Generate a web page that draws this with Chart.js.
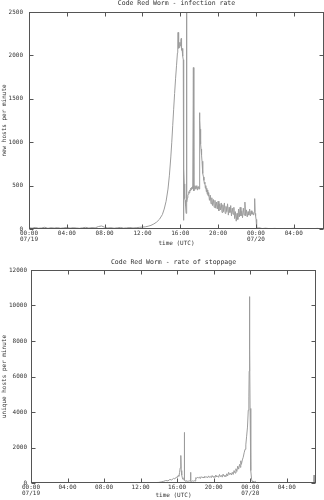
<!DOCTYPE html>
<html>
<head>
<meta charset="utf-8">
<script src="https://cdn.jsdelivr.net/npm/chart.js@4/dist/chart.umd.min.js"></script>
<style>
  html, body { margin: 0; padding: 0; background: #fff; }
  canvas { position: absolute; left: 0; }
  #rateChart { top: 0; }
  #stopChart { top: 250px; }
</style>
</head>
<body>
<canvas id="rateChart" width="324" height="250"></canvas>
<canvas id="stopChart" width="324" height="250"></canvas>
<script>
// time axis, minutes since 07/19 00:00 UTC
const tickMinutes = [0, 240, 480, 720, 960, 1200, 1440, 1680];
const tickTimes = ['00:00', '04:00', '08:00', '12:00', '16:00', '20:00', '00:00', '04:00'];
const tickDates = ['07/19', '', '', '', '', '', '07/20', ''];
const endMinute = 1872;

const rateTicks = [0, 500, 1000, 1500, 2000, 2500];
const stopTicks = [0, 2000, 4000, 6000, 8000, 10000, 12000];

// new hosts per minute
const rateMinutes = [
  0, 20, 40, 60, 80, 100, 120, 140, 160, 180, 200, 220, 240, 260, 280, 300, 320, 340, 360, 380, 400, 420, 440, 460, 480, 500, 520, 540, 560, 580, 600, 620, 640, 660, 680, 700, 720,
  738, 756, 774, 792, 810, 828, 846, 858, 870, 882, 891, 900, 906, 912, 918, 924, 930, 936, 942,
  944, 946, 948, 951, 954, 957, 960, 963, 966, 968, 971, 974, 977, 979,
  980, 981, 983, 985, 987, 989, 991, 993, 995, 997,
  999, 1002, 1005, 1008, 1011, 1014, 1017, 1020, 1023, 1026, 1029, 1032, 1035, 1038, 1040, 1043, 1045, 1047, 1050, 1053, 1056, 1059, 1062, 1065, 1068, 1071, 1074, 1077, 1080,
  1082, 1084, 1086, 1088, 1090, 1092, 1095, 1098, 1101, 1104, 1107, 1110, 1113, 1116, 1119, 1122, 1125, 1128, 1131, 1134, 1137, 1140,
  1145, 1150, 1155, 1160, 1165, 1170, 1175, 1180, 1185, 1190, 1195, 1200, 1205, 1210, 1215, 1220, 1225, 1230, 1235, 1240,
  1245, 1250, 1255, 1260, 1265, 1270, 1275, 1280, 1285, 1290, 1295, 1300, 1305, 1310, 1315, 1320, 1325, 1330, 1335, 1340,
  1345, 1350, 1355, 1360, 1365, 1370, 1375, 1380, 1385, 1390, 1395, 1400, 1405, 1410, 1415, 1420, 1425, 1430, 1432, 1435, 1438, 1441,
  1443, 1446, 1450, 1460, 1480, 1500, 1530, 1560, 1590, 1620, 1650, 1680, 1710, 1740, 1770, 1800, 1830, 1860, 1872
];
const rateValues = [
  14, 10, 18, 9, 12, 20, 8, 15, 11, 16, 9, 13, 18, 10, 15, 12, 8, 14, 19, 11, 16, 13, 28, 35, 20, 12, 15, 9, 14, 18, 10, 13, 17, 12, 15, 19, 22,
  25, 32, 42, 58, 80, 112, 165, 230, 320, 460, 620, 830, 1000, 1190, 1380, 1560, 1730, 1880, 2030,
  2120, 2265, 2080, 2140, 2090, 2150, 2110, 2160, 2195, 2060, 2080, 2010, 1990, 1950,
  100, 760, 690, 520, 410, 350, 330, 300, 260, 180,
  3000, 310, 360, 390, 400, 430, 415, 450, 440, 470, 455, 480, 465, 490, 470, 1860, 480, 440, 470, 500, 460, 490, 470, 500, 450, 480, 470, 490, 460,
  1340, 1250, 1150, 1060, 980, 920, 850, 780, 720, 640, 600, 560, 520, 540, 470, 500, 430, 470, 400, 450, 380, 420,
  330, 390, 290, 360, 270, 340, 250, 330, 240, 310, 230, 320, 210, 290, 220, 300, 190, 280, 200, 300,
  180, 260, 200, 290, 160, 250, 190, 270, 150, 240, 170, 250, 120, 200, 90, 180, 110, 230, 140, 250,
  150, 210, 130, 240, 160, 310, 150, 220, 140, 200, 160, 230, 150, 210, 170, 190, 160, 200, 350, 180, 150, 110,
  15, 28, 8, 14, 5, 9, 4, 7, 3, 6, 4, 8, 3, 5, 6, 4, 7, 3, 5
];

// unique hosts per minute that stopped
const stopMinutes = [
  0, 30, 60, 90, 120, 150, 180, 210, 240, 270, 300, 330, 360, 390, 420, 450, 480, 510, 540, 570, 600, 630, 660, 690, 720, 750, 780, 810, 840,
  855, 870, 885, 900, 912, 924, 936, 945, 954, 960, 966, 972, 976, 980,
  983, 985, 987, 990, 994, 998, 1002, 1005, 1007, 1009, 1013, 1018, 1024, 1030, 1036, 1042, 1046, 1048, 1050, 1055, 1060, 1066, 1072, 1078,
  1082, 1088, 1094, 1100, 1106, 1112, 1118, 1124, 1130, 1136, 1142, 1148, 1154, 1160, 1166, 1172, 1178, 1184, 1190, 1196,
  1202, 1208, 1214, 1220, 1226, 1232, 1238, 1244, 1250, 1256, 1262, 1268, 1274, 1280, 1286, 1292, 1298, 1304, 1310, 1316,
  1322, 1328, 1334, 1340, 1346, 1352, 1358, 1364, 1370, 1376,
  1378, 1382, 1388, 1394, 1400, 1406, 1411, 1416, 1422, 1427, 1431, 1433, 1435, 1437, 1439, 1442, 1445, 1449,
  1453, 1458, 1463, 1468, 1474, 1480, 1490, 1500, 1540, 1580, 1620, 1660, 1700, 1740, 1780, 1820, 1850, 1856, 1859, 1862, 1868, 1872
];
const stopValues = [
  2, 0, 3, 1, 0, 2, 4, 1, 0, 3, 1, 2, 0, 4, 2, 1, 3, 0, 2, 1, 3, 0, 2, 5, 3, 8, 12, 20, 35,
  60, 90, 140, 120, 200, 170, 260, 230, 330, 300, 420, 380, 600, 850,
  1100, 1550, 700, 450, 300, 220, 180, 150, 2850, 160, 120, 100, 130, 90, 110, 120, 100, 600, 110, 90, 120, 100, 130, 110,
  300, 260, 340, 280, 330, 250, 360, 300, 340, 280, 380, 310, 350, 290, 400, 320, 370, 300, 420, 330,
  380, 310, 450, 340, 400, 320, 480, 360, 430, 330, 500, 380, 440, 350, 520, 400, 600, 480, 560, 450,
  600, 480, 700, 560, 800, 650, 950, 780, 1050, 880,
  1250, 1050, 1300, 1450, 1700, 1900, 2150, 2600, 3150, 4100, 4850, 6300, 10500, 7500, 4200, 1800, 700, 200,
  100, 60, 110, 40, 90, 30, 10, 0, 2, 0, 3, 1, 0, 2, 1, 0, 5, 80, 450, 60, 10, 5
];

const FONT = '"DejaVu Sans Mono", monospace';
const INK = '#333';

// gnuplot style box, mirrored inward ticks and title over the plot
const gnuFrame = {
  id: 'gnuFrame',
  afterDraw(chart, args, opts) {
    const { ctx, chartArea: a, scales: { x, y } } = chart;
    const L = Math.round(a.left) + 0.5, R = Math.round(a.right) - 0.5;
    const T = Math.round(a.top) + 0.5, B = Math.round(a.bottom) - 0.5;
    ctx.save();
    ctx.strokeStyle = '#555';
    ctx.lineWidth = 1;
    ctx.strokeRect(L, T, R - L, B - T);
    ctx.beginPath();
    x.ticks.forEach(t => {
      const px = Math.round(x.getPixelForValue(t.value)) + 0.5;
      ctx.moveTo(px, B); ctx.lineTo(px, B - 4);
      ctx.moveTo(px, T); ctx.lineTo(px, T + 4);
    });
    y.ticks.forEach(t => {
      const py = Math.round(y.getPixelForValue(t.value)) + 0.5;
      ctx.moveTo(L, py); ctx.lineTo(L + 4, py);
      ctx.moveTo(R, py); ctx.lineTo(R - 4, py);
    });
    ctx.stroke();
    ctx.fillStyle = INK;
    ctx.font = '6.5px ' + FONT;
    ctx.textAlign = 'center';
    ctx.textBaseline = 'middle';
    ctx.fillText(opts.text, (a.left + a.right) / 2, a.top - opts.gap);
    ctx.restore();
  }
};

function makeChart(id, title, yTitle, minutes, values, yTicks, g) {
  new Chart(document.getElementById(id), {
    type: 'line',
    data: {
      datasets: [{
        data: minutes.map((m, i) => ({ x: m, y: values[i] })),
        borderColor: '#9c9c9c',
        borderWidth: 1,
        pointRadius: 0,
        tension: 0
      }]
    },
    options: {
      responsive: false,
      animation: false,
      events: [],
      layout: { padding: { top: g.top, right: g.right, bottom: g.bottom, left: 0 } },
      plugins: {
        legend: { display: false },
        tooltip: { enabled: false },
        gnuFrame: { text: title, gap: g.titleGap }
      },
      scales: {
        x: {
          type: 'linear',
          min: 0,
          max: endMinute,
          grid: { display: false, drawTicks: false },
          border: { display: false },
          afterBuildTicks: s => { s.ticks = tickMinutes.map(v => ({ value: v })); },
          afterFit: s => { s.height = g.xHeight; },
          ticks: {
            maxRotation: 0,
            autoSkip: false,
            padding: g.xPad,
            color: INK,
            font: { family: FONT, size: 6, lineHeight: 0.9 },
            callback: v => {
              const i = tickMinutes.indexOf(v);
              return tickDates[i] ? [tickTimes[i], tickDates[i]] : tickTimes[i];
            }
          },
          title: {
            display: true,
            text: 'time (UTC)',
            color: INK,
            font: { family: FONT, size: 6 },
            padding: { top: 0, bottom: g.xTitlePad }
          }
        },
        y: {
          min: 0,
          max: yTicks[yTicks.length - 1],
          grid: { display: false, drawTicks: false },
          border: { display: false },
          afterBuildTicks: s => { s.ticks = yTicks.map(v => ({ value: v })); },
          afterFit: s => { s.width = g.left; },
          ticks: {
            padding: g.yPad,
            color: INK,
            font: { family: FONT, size: 6 },
            callback: v => String(v)
          },
          title: {
            display: true,
            text: yTitle,
            color: INK,
            font: { family: FONT, size: 6 },
            padding: { top: 0.5, bottom: 0 }
          }
        }
      }
    },
    plugins: [gnuFrame]
  });
}

makeChart('rateChart', 'Code Red Worm - infection rate', 'new hosts per minute',
  rateMinutes, rateValues, rateTicks,
  { top: 12, right: 0, bottom: 0, left: 29, xHeight: 21, xPad: 2, xTitlePad: 3, yPad: 6, titleGap: 8.5 });

makeChart('stopChart', 'Code Red Worm - rate of stoppage', 'unique hosts per minute',
  stopMinutes, stopValues, stopTicks,
  { top: 20, right: 8, bottom: 0, left: 31, xHeight: 17, xPad: 2, xTitlePad: 0.7, yPad: 4, titleGap: 8 });
</script>
</body>
</html>
